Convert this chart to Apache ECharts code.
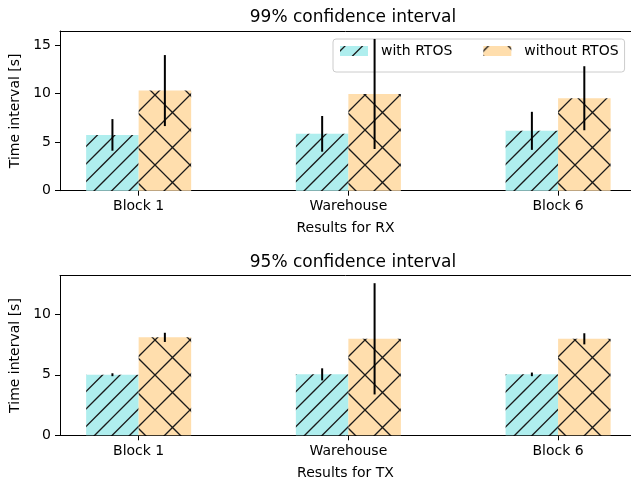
<!DOCTYPE html>
<html>
<head>
<meta charset="utf-8">
<script src="https://cdn.jsdelivr.net/npm/echarts@6/dist/echarts.min.js"></script>
<style>
  html, body { margin: 0; padding: 0; background: #fff; }
  #chart { width: 631px; height: 483px; }
</style>
</head>
<body>
<div id="chart"></div>
<script>
// data
const categories = ['Block 1', 'Warehouse', 'Block 6']
const seriesNames = ['with RTOS', 'without RTOS']
const yTicksRx = [0, 5, 10, 15]
const yTicksTx = [0, 5, 10]

const rxWith = [5.75, 5.86, 6.17]
const rxWithErr = [1.63, 1.84, 1.96]
const rxWithout = [10.32, 9.97, 9.53]
const rxWithoutErr = [3.66, 5.67, 3.3]

const txWith = [5.01, 5.04, 5.04]
const txWithErr = [0.12, 0.5, 0.15]
const txWithout = [8.1, 7.98, 7.98]
const txWithoutErr = [0.38, 4.6, 0.46]

// hatch tiles like matplotlib's '/' and 'x'
const makeHatch = (bg, slash, back) => {
    const size = 35
    const c = document.createElement('canvas')
    c.width = size
    c.height = size
    const ctx = c.getContext('2d')
    ctx.fillStyle = bg
    ctx.fillRect(0, 0, size, size)
    ctx.strokeStyle = '#1a1a1a'
    ctx.lineWidth = 1.3
    ctx.beginPath()
    slash.forEach(p => {
        for (let k = -2; k <= 2; k++) {
            const o = p + k * size
            ctx.moveTo(o + 2, -2)
            ctx.lineTo(o - size - 2, size + 2)
        }
    })
    back.forEach(p => {
        for (let k = -2; k <= 2; k++) {
            const o = p + k * size
            ctx.moveTo(o - 2, -2)
            ctx.lineTo(o + size + 2, size + 2)
        }
    })
    ctx.stroke()
    return { image: c, repeat: 'repeat' }
}

const hatchWith = makeHatch('#afeeee', [5, 22.5], [])
const hatchWithout = makeHatch('#ffdead', [5], [25])

const font = 'DejaVu Sans'
// the plot area runs past the right edge of the figure, so the x range is cut there
const xMin = -0.375
const xMax = 2.3476
const grids = [
    { left: 60, top: 31, right: 0, height: 159.7 },
    { left: 60, top: 275.7, right: 0, height: 159.6 }
]

const xAxis = (idx, name) => ({
    type: 'value',
    gridIndex: idx,
    min: xMin,
    max: xMax,
    name: name,
    nameLocation: 'middle',
    nameGap: 31,
    nameTextStyle: { fontSize: 14, color: '#000', fontFamily: font },
    axisLine: { show: true, onZero: false, lineStyle: { color: '#000', width: 1 } },
    axisTick: { show: true, length: 5, customValues: [0, 1, 2], lineStyle: { color: '#000' } },
    axisLabel: {
        customValues: [0, 1, 2],
        formatter: v => categories[Math.round(v)],
        fontSize: 14, color: '#000', fontFamily: font, margin: 9
    },
    splitLine: { show: false }
})

// top spine only
const topSpine = idx => ({
    type: 'value',
    gridIndex: idx,
    position: 'top',
    min: xMin,
    max: xMax,
    axisLine: { show: true, onZero: false, lineStyle: { color: '#000', width: 1 } },
    axisTick: { show: false },
    axisLabel: { show: false },
    splitLine: { show: false }
})

const yAxis = (idx, max, ticks) => ({
    type: 'value',
    gridIndex: idx,
    min: 0,
    max: max,
    name: 'Time interval [s]',
    nameLocation: 'middle',
    nameGap: 34,
    nameTextStyle: { fontSize: 14, color: '#000', fontFamily: font },
    axisLine: { show: true, onZero: false, lineStyle: { color: '#000', width: 1 } },
    axisTick: { show: true, length: 5, customValues: ticks, lineStyle: { color: '#000' } },
    axisLabel: { customValues: ticks, fontSize: 14, color: '#000', fontFamily: font, margin: 9 },
    splitLine: { show: false }
})

const barSeries = (idx, name, values, color) => ({
    type: 'bar',
    name: name,
    xAxisIndex: idx,
    yAxisIndex: idx,
    barWidth: 52.5,
    barGap: '0%',
    itemStyle: { color: color },
    data: values.map((v, i) => [i, v]),
    z: 2
})

const errSeries = (idx, values, errs, shift) => ({
    type: 'custom',
    xAxisIndex: idx,
    yAxisIndex: idx,
    silent: true,
    z: 5,
    data: values.map((v, i) => [i + shift, v, errs[i]]),
    renderItem: (params, api) => {
        const x = api.value(0)
        const v = api.value(1)
        const e = api.value(2)
        const p1 = api.coord([x, v - e])
        const p2 = api.coord([x, v + e])
        return {
            type: 'line',
            shape: { x1: p1[0], y1: p1[1], x2: p2[0], y2: p2[1] },
            style: { stroke: '#000', lineWidth: 2 }
        }
    }
})

const chart = echarts.init(document.getElementById('chart'), null, { renderer: 'canvas' })

chart.setOption({
    animation: false,
    backgroundColor: '#fff',
    textStyle: { fontFamily: font },
    title: [
        {
            text: '99% confidence interval', left: 348, top: 3, textAlign: 'center',
            textStyle: { fontSize: 17, fontWeight: 'normal', color: '#000', fontFamily: font, lineHeight: 20 }
        },
        {
            text: '95% confidence interval', left: 348, top: 247.5, textAlign: 'center',
            textStyle: { fontSize: 17, fontWeight: 'normal', color: '#000', fontFamily: font, lineHeight: 20 }
        }
    ],
    legend: {
        data: seriesNames,
        left: 333,
        top: 39,
        icon: 'rect',
        itemWidth: 28,
        itemHeight: 10,
        itemGap: 31,
        padding: [4, 6, 13, 7],
        backgroundColor: 'rgba(255,255,255,0.8)',
        borderColor: '#cccccc',
        borderWidth: 1,
        borderRadius: 3,
        textStyle: { fontSize: 14, color: '#000', fontFamily: font, lineHeight: 16, padding: [0, 0, 0, 8] }
    },
    grid: grids,
    xAxis: [xAxis(0, 'Results for RX'), xAxis(1, 'Results for TX'), topSpine(0), topSpine(1)],
    yAxis: [yAxis(0, 16.46, yTicksRx), yAxis(1, 13.2, yTicksTx)],
    series: [
        barSeries(0, seriesNames[0], rxWith, hatchWith),
        barSeries(0, seriesNames[1], rxWithout, hatchWithout),
        barSeries(1, seriesNames[0], txWith, hatchWith),
        barSeries(1, seriesNames[1], txWithout, hatchWithout),
        errSeries(0, rxWith, rxWithErr, -0.125),
        errSeries(0, rxWithout, rxWithoutErr, 0.125),
        errSeries(1, txWith, txWithErr, -0.125),
        errSeries(1, txWithout, txWithoutErr, 0.125)
    ]
})

window.addEventListener('resize', () => chart.resize())
</script>
</body>
</html>
